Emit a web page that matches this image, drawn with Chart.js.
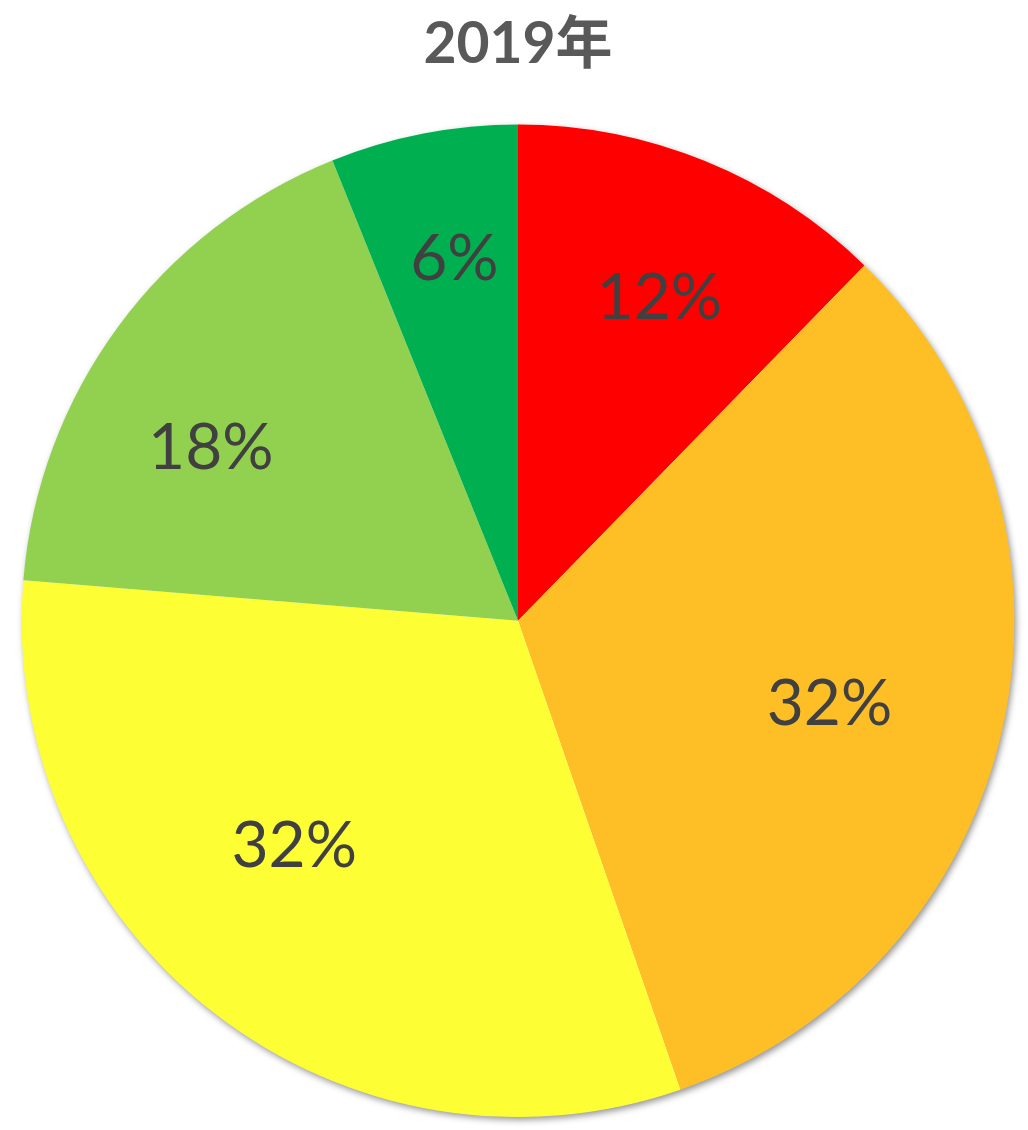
<!DOCTYPE html>
<html>
<head>
<meta charset="utf-8">
<script src="https://cdn.jsdelivr.net/npm/chart.js@4"></script>
<style>
  html, body { margin: 0; padding: 0; background: #fff; }
  #wrap { width: 1028px; height: 1130px; }
</style>
</head>
<body>
<div id="wrap"><canvas id="myChart" width="1028" height="1130"></canvas></div>
<script>
// data
const categories = ["区分1", "区分2", "区分3", "区分4", "区分5"];
const shares = [12.3, 32.4, 31.6, 17.6, 6.1];
const sliceColors = ["#FF0000", "#FEBE26", "#FEFE35", "#92D050", "#00B050"];
const chartTitle = "2019年";

// soft shadow round the whole pie, drawn once beneath the slices
const pieShadow = {
    id: "pieShadow",
    beforeDatasetsDraw(chart) {
        const arc = chart.getDatasetMeta(0).data[0];
        if (!arc) return;
        const ctx = chart.ctx;
        ctx.save();
        ctx.shadowColor = "rgba(0,0,0,0.45)";
        ctx.shadowBlur = 7;
        ctx.shadowOffsetX = 2;
        ctx.shadowOffsetY = 3;
        ctx.fillStyle = "#ffffff";
        ctx.beginPath();
        ctx.arc(arc.x, arc.y, arc.outerRadius - 0.5, 0, Math.PI * 2);
        ctx.fill();
        ctx.restore();
    }
};

// percentage labels inside each slice ("best fit" style placement)
const sliceLabels = {
    id: "sliceLabels",
    afterDatasetsDraw(chart, args, opts) {
        const ctx = chart.ctx;
        const values = chart.data.datasets[0].data;
        const total = values.reduce((a, b) => a + b, 0);
        ctx.save();
        ctx.font = opts.font;
        ctx.fillStyle = opts.color;
        ctx.textAlign = "center";
        ctx.textBaseline = "middle";
        chart.getDatasetMeta(0).data.forEach((arc, i) => {
            const mid = (arc.startAngle + arc.endAngle) / 2 + (opts.angleShift[i] || 0) * Math.PI / 180;
            const r = arc.outerRadius * (opts.radius[i] || 0.69);
            ctx.fillText(Math.round(values[i] / total * 100) + "%",
                arc.x + Math.cos(mid) * r, arc.y + Math.sin(mid) * r);
        });
        ctx.restore();
    }
};

const myChartRef = document.getElementById("myChart").getContext("2d");
new Chart(myChartRef, {
    type: "pie",
    data: {
        labels: categories,
        datasets: [{
            data: shares,
            backgroundColor: sliceColors,
            borderWidth: 0
        }]
    },
    options: {
        responsive: false,
        animation: false,
        layout: { padding: { left: 8, right: 0, top: 0, bottom: 13 } },
        plugins: {
            legend: { display: false },
            tooltip: { enabled: false },
            title: {
                display: true,
                text: chartTitle,
                color: "#595959",
                font: { family: "Lato, 'Noto Sans CJK SC', sans-serif", size: 57, weight: "bold", lineHeight: 1.2 },
                padding: { top: 10, bottom: 46 }
            },
            sliceLabels: {
                font: "64px Lato, 'Noto Sans CJK SC', sans-serif",
                color: "#404040",
                radius: [0.71, 0.65, 0.64, 0.71, 0.74],
                angleShift: [1.5, 2.5, 7, -7, 1]
            }
        }
    },
    plugins: [pieShadow, sliceLabels]
});
</script>
</body>
</html>
